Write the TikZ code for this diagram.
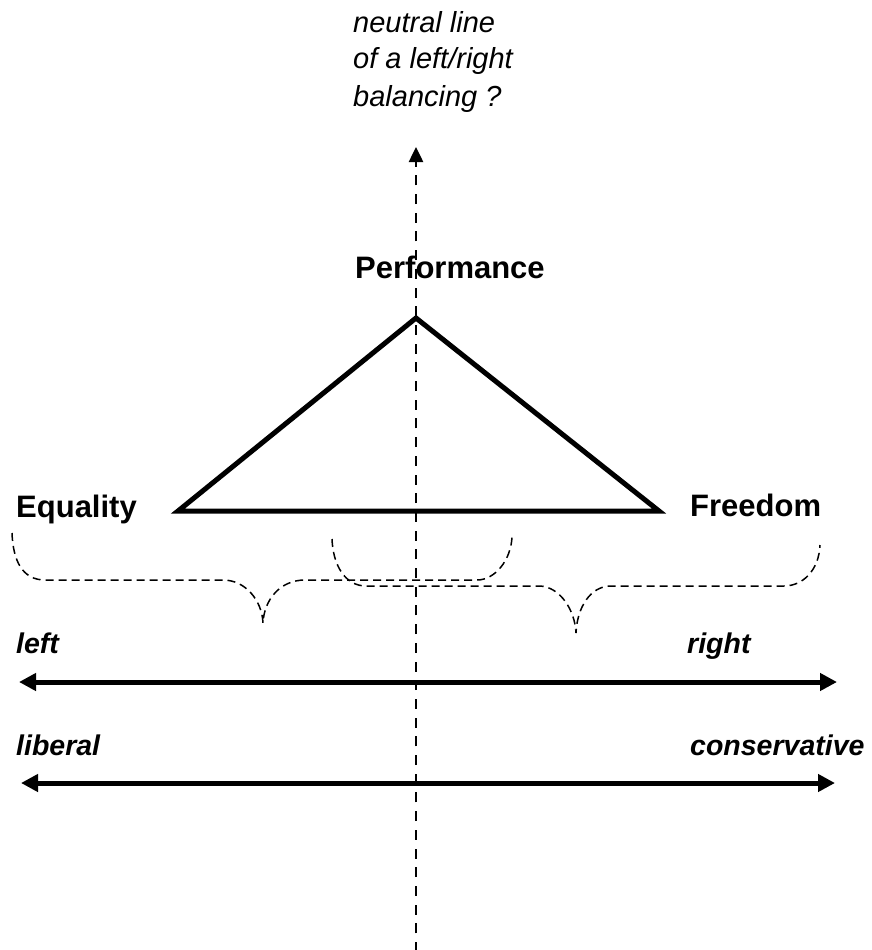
\documentclass[tikz,border=0pt]{standalone}
\usepackage{fontspec}
\setmainfont{Liberation Sans}
\usetikzlibrary{arrows.meta}
\begin{document}
\begin{tikzpicture}[x=1pt,y=-1pt,
  boldlab/.style={inner sep=0pt,font=\fontsize{31}{36}\selectfont\bfseries},
  itlab/.style={inner sep=0pt,font=\fontsize{29}{36}\selectfont\itshape},
  bilab/.style={inner sep=0pt,font=\fontsize{28.5}{34}\selectfont\bfseries\itshape},
  vline/.style={line width=2.5pt,dash pattern=on 10pt off 8.7pt,-{Triangle[length=15pt,width=14pt]}},
  harrow/.style={line width=5pt,{Triangle[length=17pt,width=17pt]}-{Triangle[length=17pt,width=17pt]}},
  tri/.style={line width=5pt,line join=miter},
  bracestyle/.style={line width=1.5pt,dash pattern=on 8pt off 5pt}
]
\useasboundingbox (0,0) rectangle (871,950);
% top text
\node[itlab,anchor=base west] (t1) at (353,33) {neutral line};
\node[itlab,anchor=base west] (t2) at (353,69) {of a left/right};
\node[itlab,anchor=base west] (t3) at (353,106) {balancing ?};
% labels
\node[boldlab,anchor=base west] (perf) at (355,278) {Performance};
\node[boldlab,anchor=base west] (eq) at (16,517) {Equality};
\node[boldlab,anchor=base west] (fr) at (690,516) {Freedom};
\node[bilab,anchor=base west] (lft) at (16,653) {left};
\node[bilab,anchor=base west] (rgt) at (687,653) {right};
\node[bilab,anchor=base west] (lib) at (16,755) {liberal};
\node[bilab,anchor=base west] (con) at (690,755) {conservative};
% coordinates
\coordinate (vb) at (416,952);
\coordinate (vt) at (416,147);
\coordinate (P) at (416,318);
\coordinate (E) at (178,511);
\coordinate (F) at (659,511);
\coordinate (a1l) at (19,682);
\coordinate (a1r) at (837,682);
\coordinate (a2l) at (21,783);
\coordinate (a2r) at (835,783);
% triangle
\draw[tri] (E) -- (P) -- (F) -- cycle;
% neutral line
\draw[vline] (vb) -- (vt);
% braces
\draw[bracestyle] (12,533) .. controls (13,560) and (22,580) .. (45,580) -- (223,580)
  .. controls (245,580) and (262,600) .. (263,623)
  .. controls (264,600) and (280,580) .. (305,580) -- (477,580)
  .. controls (495,580) and (511,560) .. (512,537);
\draw[bracestyle] (332,539) .. controls (333,565) and (345,586) .. (366,586) -- (540,586)
  .. controls (560,587) and (575,610) .. (576,633)
  .. controls (577,608) and (590,586) .. (611,586) -- (784,586)
  .. controls (803,586) and (819,570) .. (820,545);
% axes
\draw[harrow] (a1l) -- (a1r);
\draw[harrow] (a2l) -- (a2r);
\end{tikzpicture}
\end{document}
